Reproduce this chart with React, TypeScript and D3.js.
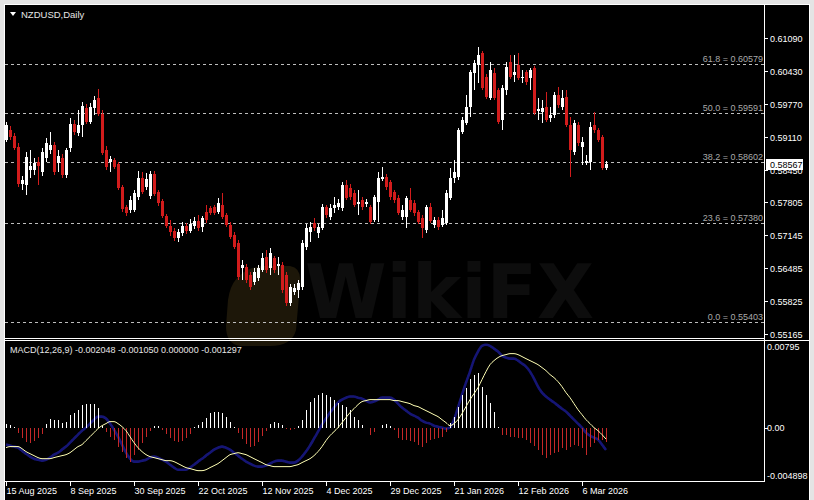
import React, { useEffect } from "react";
import * as d3 from "d3";

const W = 814;
const H = 500;

const opens = [
  0.5905, 0.5925, 0.5913, 0.5891, 0.5817, 0.5815, 0.5845, 0.5845, 0.5861, 0.5841,
  0.5869, 0.5885, 0.5895, 0.5859, 0.5869, 0.5835, 0.5889, 0.5937, 0.5919, 0.5935,
  0.5969, 0.5941, 0.5969, 0.5989, 0.5957, 0.5885, 0.5861, 0.5865, 0.5857, 0.5811,
  0.5771, 0.5765, 0.5765, 0.5791, 0.5829, 0.5811, 0.5793, 0.5837, 0.5801, 0.5783,
  0.5753, 0.5733, 0.5723, 0.5709, 0.5719, 0.5733, 0.5723, 0.5733, 0.5743, 0.5731,
  0.5761, 0.5769, 0.5771, 0.5761, 0.5775, 0.5755, 0.5735, 0.5715, 0.5699, 0.5649,
  0.5651, 0.5635, 0.5621, 0.5629, 0.5645, 0.5671, 0.5649, 0.5669, 0.5653, 0.5655,
  0.5635, 0.5579, 0.5601, 0.5605, 0.5611, 0.5691, 0.5721, 0.5739, 0.5719, 0.5729,
  0.5771, 0.5751, 0.5769, 0.5771, 0.5769, 0.5815, 0.5809, 0.5799, 0.5777, 0.5785,
  0.5777, 0.5771, 0.5745, 0.5781, 0.5827, 0.5831, 0.5821, 0.5801, 0.5789, 0.5751,
  0.5751, 0.5785, 0.5779, 0.5761, 0.5749, 0.5725, 0.5771, 0.5735, 0.5745, 0.5735,
  0.5739, 0.5789, 0.5829, 0.5831, 0.5921, 0.5939, 0.5971, 0.6039, 0.6055, 0.6079,
  0.6031, 0.5989, 0.6039, 0.6005, 0.5945, 0.6005, 0.6061, 0.6035, 0.6055, 0.6029,
  0.6041, 0.6029, 0.6049, 0.5963, 0.5961, 0.5971, 0.5949, 0.5955, 0.5995, 0.5971,
  0.5991, 0.5935, 0.5881, 0.5935, 0.5891, 0.5859, 0.5861, 0.5935, 0.5925, 0.5911, 0.5849,
];
const highs = [
  0.5941, 0.5933, 0.5919, 0.5899, 0.5833, 0.5881, 0.5885, 0.5869, 0.5871, 0.5889,
  0.5909, 0.5921, 0.5901, 0.5885, 0.5877, 0.5889, 0.5949, 0.5945, 0.5965, 0.5981,
  0.5977, 0.5979, 0.5993, 0.6007, 0.5965, 0.5893, 0.5873, 0.5869, 0.5861, 0.5815,
  0.5775, 0.5793, 0.5805, 0.5843, 0.5841, 0.5839, 0.5843, 0.5843, 0.5805, 0.5787,
  0.5757, 0.5745, 0.5729, 0.5727, 0.5741, 0.5739, 0.5747, 0.5751, 0.5755, 0.5753,
  0.5775, 0.5773, 0.5775, 0.5789, 0.5799, 0.5759, 0.5741, 0.5721, 0.5705, 0.5665,
  0.5657, 0.5641, 0.5649, 0.5655, 0.5679, 0.5685, 0.5689, 0.5673, 0.5671, 0.5661,
  0.5641, 0.5617, 0.5617, 0.5625, 0.5705, 0.5737, 0.5741, 0.5749, 0.5737, 0.5777,
  0.5775, 0.5777, 0.5791, 0.5787, 0.5821, 0.5825, 0.5817, 0.5805, 0.5805, 0.5791,
  0.5787, 0.5775, 0.5795, 0.5841, 0.5851, 0.5837, 0.5825, 0.5805, 0.5795, 0.5775,
  0.5793, 0.5809, 0.5785, 0.5765, 0.5755, 0.5775, 0.5779, 0.5751, 0.5751, 0.5765,
  0.5805, 0.5849, 0.5865, 0.5929, 0.5951, 0.5995, 0.6045, 0.6065, 0.6091, 0.6083,
  0.6037, 0.6061, 0.6049, 0.6009, 0.6015, 0.6061, 0.6075, 0.6075, 0.6079, 0.6045,
  0.6045, 0.6049, 0.6053, 0.5989, 0.5985, 0.6001, 0.5971, 0.6001, 0.6011, 0.6005,
  0.6005, 0.5951, 0.5945, 0.5941, 0.5911, 0.5875, 0.5941, 0.5961, 0.5929, 0.5915, 0.5863,
];
const lows = [
  0.5901, 0.5905, 0.5885, 0.5811, 0.5805, 0.5795, 0.5829, 0.5835, 0.5815, 0.5833,
  0.5861, 0.5877, 0.5835, 0.5841, 0.5829, 0.5829, 0.5881, 0.5915, 0.5913, 0.5911,
  0.5937, 0.5937, 0.5955, 0.5953, 0.5875, 0.5845, 0.5841, 0.5847, 0.5805, 0.5761,
  0.5753, 0.5759, 0.5761, 0.5785, 0.5797, 0.5805, 0.5787, 0.5793, 0.5773, 0.5749,
  0.5729, 0.5713, 0.5703, 0.5701, 0.5713, 0.5717, 0.5719, 0.5727, 0.5723, 0.5721,
  0.5739, 0.5755, 0.5755, 0.5757, 0.5747, 0.5731, 0.5707, 0.5687, 0.5625, 0.5625,
  0.5619, 0.5605, 0.5615, 0.5623, 0.5641, 0.5639, 0.5635, 0.5639, 0.5635, 0.5599,
  0.5573, 0.5573, 0.5595, 0.5589, 0.5605, 0.5685, 0.5701, 0.5723, 0.5709, 0.5725,
  0.5749, 0.5745, 0.5759, 0.5765, 0.5763, 0.5785, 0.5785, 0.5771, 0.5755, 0.5765,
  0.5771, 0.5737, 0.5741, 0.5741, 0.5823, 0.5805, 0.5785, 0.5779, 0.5755, 0.5745,
  0.5729, 0.5761, 0.5753, 0.5737, 0.5709, 0.5719, 0.5739, 0.5729, 0.5725, 0.5731,
  0.5735, 0.5785, 0.5819, 0.5825, 0.5917, 0.5935, 0.5951, 0.6005, 0.6019, 0.6005,
  0.5987, 0.5985, 0.5985, 0.5937, 0.5925, 0.5995, 0.6027, 0.6021, 0.6025, 0.6019,
  0.6015, 0.6005, 0.5955, 0.5945, 0.5939, 0.5941, 0.5941, 0.5949, 0.5969, 0.5965,
  0.5931, 0.5831, 0.5875, 0.5893, 0.5855, 0.5855, 0.5845, 0.5919, 0.5901, 0.5845, 0.5845,
];
const closes = [
  0.5935, 0.5911, 0.5889, 0.5817, 0.5825, 0.5871, 0.5853, 0.5859, 0.5853, 0.5881,
  0.5899, 0.5895, 0.5841, 0.5873, 0.5835, 0.5885, 0.5937, 0.5921, 0.5935, 0.5973,
  0.5941, 0.5971, 0.5985, 0.5957, 0.5879, 0.5851, 0.5867, 0.5851, 0.5809, 0.5767,
  0.5759, 0.5785, 0.5799, 0.5829, 0.5801, 0.5827, 0.5837, 0.5797, 0.5779, 0.5753,
  0.5733, 0.5721, 0.5709, 0.5721, 0.5733, 0.5723, 0.5737, 0.5743, 0.5729, 0.5749,
  0.5745, 0.5759, 0.5759, 0.5779, 0.5751, 0.5735, 0.5711, 0.5691, 0.5631, 0.5655,
  0.5625, 0.5611, 0.5641, 0.5649, 0.5669, 0.5645, 0.5679, 0.5645, 0.5657, 0.5605,
  0.5579, 0.5611, 0.5609, 0.5619, 0.5699, 0.5729, 0.5731, 0.5729, 0.5731, 0.5771,
  0.5755, 0.5769, 0.5775, 0.5779, 0.5815, 0.5789, 0.5791, 0.5775, 0.5781, 0.5771,
  0.5781, 0.5741, 0.5791, 0.5829, 0.5831, 0.5811, 0.5791, 0.5785, 0.5759, 0.5765,
  0.5789, 0.5765, 0.5759, 0.5741, 0.5729, 0.5771, 0.5743, 0.5745, 0.5731, 0.5749,
  0.5799, 0.5829, 0.5841, 0.5925, 0.5945, 0.5971, 0.6041, 0.6059, 0.6075, 0.6009,
  0.5991, 0.6045, 0.5989, 0.5941, 0.6009, 0.6051, 0.6031, 0.6041, 0.6029, 0.6031,
  0.6021, 0.6045, 0.5959, 0.5967, 0.5969, 0.5945, 0.5955, 0.5995, 0.5975, 0.5989,
  0.5935, 0.5885, 0.5939, 0.5899, 0.5901, 0.5863, 0.5931, 0.5925, 0.5905, 0.5849, 0.58567,
];

const macdHist = [
  0.00037, 0.00028, 0.00009, -0.00046, -0.00092, -0.00129, -0.00138, -0.00119, -0.00092, -0.00055,
  0.00037, 0.00083, 0.00073, 0.00073, 0.00046, 0.00055, 0.00119, 0.00138, 0.00165, 0.00211,
  0.0022, 0.0022, 0.0022, 0.00184, 0.00018, -0.00037, -0.00083, -0.0011, -0.00174, -0.0022,
  -0.00275, -0.00312, -0.00248, -0.00202, -0.00138, -0.00083, -0.00028, 0.00018, 0.00018, -0.00018,
  -0.00055, -0.00092, -0.00119, -0.00129, -0.00119, -0.00092, -0.00055, 0.00009, 0.00028, 0.00055,
  0.00092, 0.00138, 0.00147, 0.00147, 0.00138, 0.00101, 0.00055, 0.00009, -0.00046, -0.00101,
  -0.00147, -0.00174, -0.00165, -0.00129, -0.00073, -0.00028, 0.00037, 0.00055, 0.00046, 0.00028,
  -0.00009, -0.00018, -0.00009, 0.00018, 0.00073, 0.00165, 0.00239, 0.00275, 0.00303, 0.00321,
  0.00303, 0.00285, 0.00257, 0.0023, 0.00211, 0.00193, 0.00165, 0.00101, 0.00073, 0.00028,
  0, -0.00064, -0.00037, 0, 0.00028, 0.00037, 0.00018, -0.00018, -0.00092, -0.0011,
  -0.0011, -0.00119, -0.00129, -0.00156, -0.00174, -0.00138, -0.0011, -0.00101, -0.00092, -0.00083,
  -0.00037, 0.00046, 0.00101, 0.00193, 0.00303, 0.00367, 0.0045, 0.00487, 0.00505, 0.00376,
  0.00303, 0.0023, 0.00147, 0.00009, -0.00064, -0.00064, -0.00083, -0.00083, -0.00092, -0.00092,
  -0.0011, -0.00138, -0.00165, -0.00202, -0.00248, -0.00275, -0.00248, -0.0023, -0.0022, -0.00184,
  -0.00202, -0.00174, -0.00156, -0.00165, -0.00184, -0.00248, -0.00174, -0.00138, -0.0011, -0.0011, -0.001297,
];

const macdMain = [
  -0.00156, -0.00165, -0.00174, -0.00184, -0.00211, -0.00239, -0.00266, -0.00285, -0.00294, -0.00303,
  -0.00294, -0.00275, -0.00248, -0.0023, -0.00202, -0.00174, -0.00138, -0.00101, -0.00064, -0.00028,
  0, 0.00037, 0.00073, 0.00101, 0.00101, 0.00083, 0.00037, -0.00018, -0.00083, -0.00156,
  -0.0023, -0.00285, -0.00312, -0.00312, -0.00303, -0.00294, -0.00275, -0.00266, -0.00275, -0.00294,
  -0.00312, -0.0034, -0.00367, -0.00386, -0.00386, -0.00386, -0.00367, -0.0034, -0.00312, -0.00285,
  -0.00257, -0.0023, -0.00202, -0.00184, -0.00174, -0.00184, -0.00202, -0.0023, -0.00257, -0.00285,
  -0.00312, -0.0033, -0.00349, -0.00358, -0.00358, -0.00349, -0.0033, -0.00312, -0.00303, -0.00303,
  -0.00312, -0.00321, -0.00321, -0.00303, -0.00266, -0.0022, -0.00165, -0.00101, -0.00037, 0.00028,
  0.00083, 0.00138, 0.00184, 0.0023, 0.00257, 0.00275, 0.00285, 0.00285, 0.00275, 0.00266,
  0.00248, 0.0023, 0.00239, 0.00257, 0.00275, 0.00275, 0.00275, 0.00257, 0.0022, 0.00184,
  0.00156, 0.00129, 0.0011, 0.00092, 0.00064, 0.00046, 0.00037, 0.00018, 0.00009, 0,
  -0.00009, 0, 0.00073, 0.00184, 0.00303, 0.00413, 0.00514, 0.00624, 0.00698, 0.0075,
  0.0076, 0.0075, 0.00725, 0.00698, 0.00661, 0.00643, 0.00633, 0.00633, 0.00615, 0.00588,
  0.0056, 0.00514, 0.0045, 0.00376, 0.00321, 0.00285, 0.00257, 0.0023, 0.00202, 0.00174,
  0.00147, 0.0011, 0.00073, 0.00037, 0, -0.00046, -0.00073, -0.00092, -0.0011, -0.00156, -0.002048,
];

const macdSignal = [
  -0.00184, -0.00174, -0.00174, -0.00174, -0.00193, -0.0022, -0.00239, -0.00257, -0.00275, -0.00285,
  -0.00285, -0.00285, -0.00275, -0.00266, -0.00257, -0.00248, -0.0023, -0.00202, -0.00174, -0.00156,
  -0.00119, -0.00083, -0.00046, -0.00009, 0.00018, 0.00037, 0.00055, 0.00055, 0.00037, 0.00009,
  -0.00028, -0.00083, -0.00138, -0.00184, -0.0022, -0.00248, -0.00266, -0.00275, -0.00285, -0.00294,
  -0.00303, -0.00303, -0.00312, -0.0033, -0.00349, -0.00367, -0.00376, -0.00386, -0.00395, -0.00395,
  -0.00386, -0.00367, -0.00349, -0.0033, -0.00303, -0.00275, -0.00248, -0.00239, -0.0023, -0.00239,
  -0.00248, -0.00266, -0.00285, -0.00303, -0.00321, -0.0034, -0.00349, -0.00358, -0.00358, -0.00358,
  -0.00358, -0.00358, -0.00349, -0.0034, -0.00321, -0.00303, -0.00285, -0.00257, -0.0022, -0.00174,
  -0.00119, -0.00073, -0.00037, 0, 0.00046, 0.00092, 0.00138, 0.00174, 0.00211, 0.00239,
  0.00248, 0.00257, 0.00257, 0.00257, 0.00257, 0.00257, 0.00257, 0.00248, 0.00248, 0.00239,
  0.0023, 0.0022, 0.00202, 0.00193, 0.00174, 0.00156, 0.00138, 0.00119, 0.00101, 0.00073,
  0.00046, 0.00018, 0.00037, 0.00073, 0.00129, 0.00193, 0.00257, 0.00312, 0.00367, 0.00441,
  0.00514, 0.00578, 0.00615, 0.00643, 0.00661, 0.0067, 0.00679, 0.00679, 0.0067, 0.00652,
  0.00633, 0.00615, 0.00597, 0.00578, 0.00551, 0.00523, 0.00487, 0.00459, 0.00422, 0.00376,
  0.00321, 0.00275, 0.0022, 0.00165, 0.00119, 0.00073, 0.00037, 0, -0.00028, -0.00064, -0.00105,
];

const priceTicks = [0.6109, 0.6043, 0.5977, 0.5911, 0.5845, 0.57805, 0.57145, 0.56485, 0.55825, 0.55165];
const priceTickLabels = ["0.61090", "0.60430", "0.59770", "0.59110", "0.58450", "0.57805", "0.57145", "0.56485", "0.55825", "0.55165"];

const fibPrices = [0.60579, 0.59591, 0.58602, 0.5738, 0.55403];
const fibLabels = ["61.8 = 0.60579", "50.0 = 0.59591", "38.2 = 0.58602", "23.6 = 0.57380", "0.0 = 0.55403"];

const macdTicks = [0.00795, 0, -0.004898];
const macdTickLabels = ["0.00795", "0.00", "-0.004898"];

const dateTickIndex = [0, 16, 32, 48, 64, 80, 96, 112, 128, 144];
const dateTickLabels = [
  "15 Aug 2025", "8 Sep 2025", "30 Sep 2025", "22 Oct 2025", "12 Nov 2025",
  "4 Dec 2025", "29 Dec 2025", "21 Jan 2026", "12 Feb 2026", "6 Mar 2026",
];

const title = "NZDUSD,Daily";
const macdTitle = "MACD(12,26,9) -0.002048 -0.001050 0.000000 -0.001297";
const lastPriceLabel = "0.58567";

const FONT = "'Liberation Sans', Arial, sans-serif";
const BULL = "#ffffff";
const BEAR = "#d21c1c";

export default function App() {
  useEffect(() => {
    document.body.style.margin = "0";
  }, []);

  const n = closes.length;
  const x = d3.scaleLinear().domain([0, n - 1]).range([6, 606]);
  const y = d3.scaleLinear().domain([0.5509, 0.6173]).range([338, 6]);
  const ym = d3.scaleLinear().domain([-0.004898, 0.00795]).range([481, 341]);

  const lineMain = d3
    .line<number>()
    .x((_, i) => x(i))
    .y((v) => ym(v))
    .curve(d3.curveMonotoneX);

  const plotRight = 764;
  const lastY = Math.round(y(closes[n - 1]));

  return (
    <svg
      width={W}
      height={H}
      style={{ position: "absolute", left: 0, top: 0, display: "block" }}
      fontFamily={FONT}
    >
      <defs>
        <clipPath id="belowBox">
          <rect x={765} y={lastY + 6} width={45} height={10} />
        </clipPath>
        <filter id="blueGlow" x="-5%" y="-20%" width="110%" height="140%">
          <feGaussianBlur stdDeviation="0.6" />
        </filter>
      </defs>
      <rect x={0} y={0} width={W} height={H} fill="#e4e4e4" />
      <rect x={4} y={4} width={806} height={H} fill="#ffffff" />
      <rect x={5} y={5} width={804} height={H} fill="#000000" />

      {/* watermark */}
      <g>
        <path
          d="M228,300 Q232,270 262,266 L290,266 Q302,268 300,284 L296,330 Q292,346 270,346 L240,346 Q226,344 226,326 Z"
          fill="#1d1709"
        />
        <text x={305} y={318} fontSize={74} fontWeight="bold" fill="#0d0d0d" fontFamily="'DejaVu Sans', sans-serif">
          WikiFX
        </text>
      </g>

      {/* fib levels */}
      {fibPrices.map((p, k) => (
        <g key={"fib" + k}>
          <line
            x1={5}
            x2={plotRight}
            y1={Math.round(y(p)) + 0.5}
            y2={Math.round(y(p)) + 0.5}
            stroke="#bdbdbd"
            strokeDasharray="3,3"
            strokeWidth={1}
          />
          <text x={plotRight - 1} y={Math.round(y(p)) - 2} fontSize={9} fill="#a9a9a9" textAnchor="end">
            {fibLabels[k]}
          </text>
        </g>
      ))}

      {/* candles */}
      <g shapeRendering="crispEdges">
        {closes.map((c, i) => {
          const o = opens[i];
          const col = c >= o ? BULL : BEAR;
          const cx = Math.round(x(i));
          const yTop = y(Math.max(o, c));
          const yBot = y(Math.min(o, c));
          return (
            <g key={"c" + i}>
              <rect x={cx} y={y(highs[i])} width={1} height={Math.max(1, y(lows[i]) - y(highs[i]))} fill={col} />
              <rect x={cx - 1} y={yTop} width={3} height={Math.max(1, yBot - yTop)} fill={col} />
            </g>
          );
        })}
      </g>

      {/* title */}
      <path d="M10,12 L16,12 L13,16 Z" fill="#ffffff" />
      <text x={21} y={18} fontSize={9.5} fill="#e6e6e6">
        {title}
      </text>

      {/* MACD panel */}
      <path
        d={lineMain(macdMain) || ""}
        fill="none"
        stroke="#1a1a8a"
        strokeWidth={2.6}
        strokeOpacity={0.85}
        filter="url(#blueGlow)"
      />
      <g shapeRendering="crispEdges">
        {macdHist.map((v, i) => {
          const cx = Math.round(x(i));
          const y0 = ym(0);
          const yv = ym(v);
          return (
            <rect
              key={"h" + i}
              x={cx}
              y={Math.min(y0, yv)}
              width={1}
              height={Math.max(0.5, Math.abs(yv - y0))}
              fill={v >= 0 ? "#ffffff" : "#c42828"}
            />
          );
        })}
      </g>
      <path d={lineMain(macdSignal) || ""} fill="none" stroke="#ffffb4" strokeWidth={1} />
      <text x={10} y={353} fontSize={9} fill="#e6e6e6">
        {macdTitle}
      </text>

      {/* frames */}
      <g shapeRendering="crispEdges" stroke="#ffffff" strokeWidth={1}>
        <line x1={plotRight + 0.5} x2={plotRight + 0.5} y1={5} y2={482} />
        <line x1={5} x2={plotRight + 1} y1={338.5} y2={338.5} />
        <line x1={5} x2={809} y1={340.5} y2={340.5} />
        <line x1={5} x2={plotRight + 1} y1={481.5} y2={481.5} />
        <line x1={4.5} x2={4.5} y1={5} y2={H} />
      </g>

      {/* price axis */}
      {priceTicks.map((p, k) => {
        const ty = Math.round(y(p)) + 0.5;
        const hidden = Math.abs(y(p) - lastY) < 8;
        return (
          <g key={"pt" + k}>
            <line x1={plotRight} x2={plotRight + 4} y1={ty} y2={ty} stroke="#ffffff" />
            <text
              x={plotRight + 6}
              y={y(p) + 3.5}
              fontSize={9}
              fill="#ffffff"
              clipPath={hidden ? "url(#belowBox)" : undefined}
            >
              {priceTickLabels[k]}
            </text>
          </g>
        );
      })}
      <rect x={766} y={lastY - 5} width={37} height={11} fill="#ffffff" />
      <text x={plotRight + 6} y={y(closes[n - 1]) + 3.5} fontSize={9} fill="#000000">
        {lastPriceLabel}
      </text>

      {/* macd axis */}
      {macdTicks.map((v, k) => (
        <g key={"mt" + k}>
          {k === 1 && (
            <line
              x1={plotRight}
              x2={plotRight + 4}
              y1={Math.round(ym(v)) + 0.5}
              y2={Math.round(ym(v)) + 0.5}
              stroke="#ffffff"
            />
          )}
          <text
            x={plotRight + 3}
            y={k === 0 ? ym(v) + 9 : k === 2 ? ym(v) - 2 : ym(v) + 3.5}
            fontSize={9}
            fill="#ffffff"
          >
            {macdTickLabels[k]}
          </text>
        </g>
      ))}

      {/* date axis */}
      {dateTickIndex.map((idx, k) => {
        const tx = Math.round(x(idx)) + 0.5;
        return (
          <g key={"dt" + k}>
            <line x1={tx} x2={tx} y1={481} y2={486} stroke="#ffffff" shapeRendering="crispEdges" />
            <text x={tx} y={494} fontSize={9} fill="#ffffff">
              {dateTickLabels[k]}
            </text>
          </g>
        );
      })}
    </svg>
  );
}
